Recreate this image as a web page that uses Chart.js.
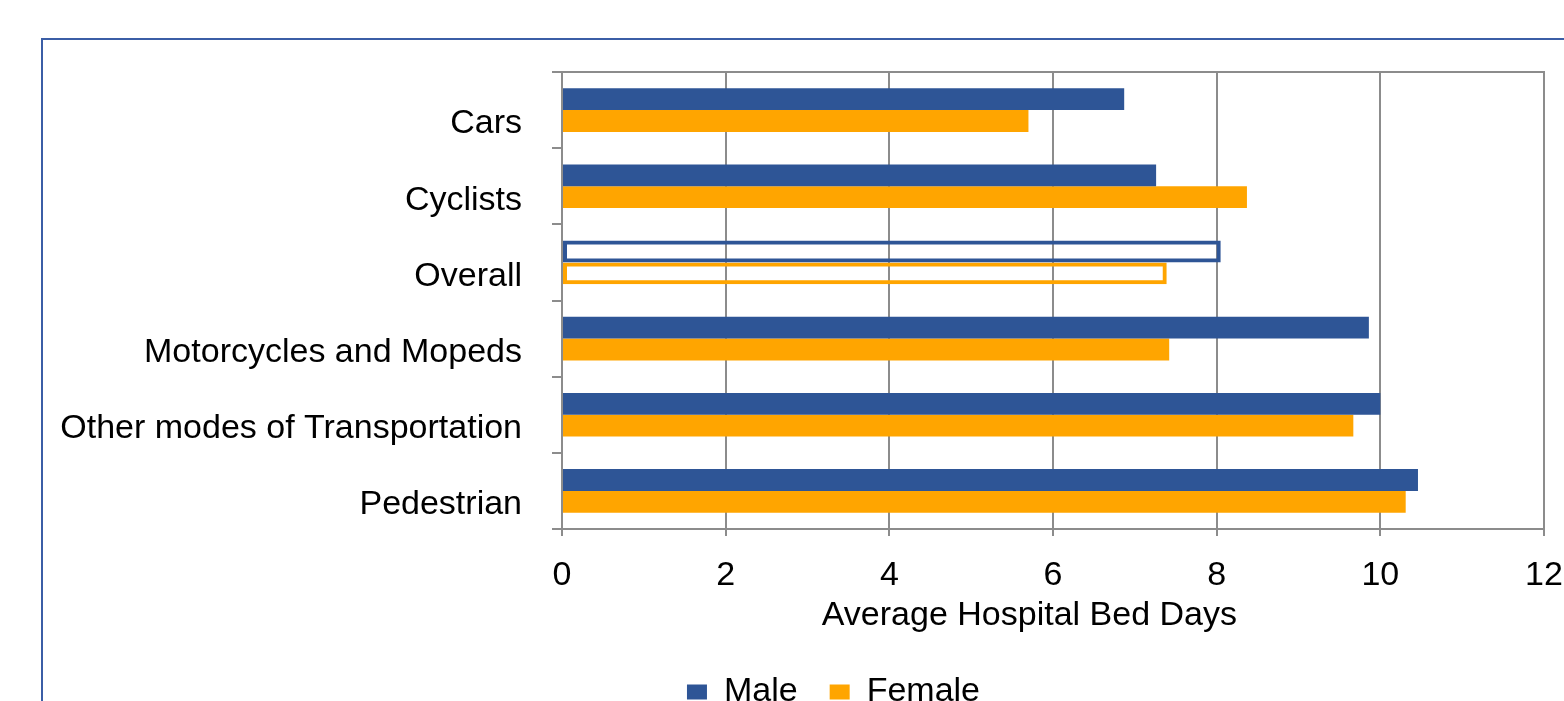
<!DOCTYPE html>
<html>
<head>
<meta charset="utf-8">
<script src="https://cdn.jsdelivr.net/npm/chart.js@4"></script>
<style>
  html, body { margin: 0; padding: 0; background: #fff; overflow: hidden; }
  #frame {
    position: absolute; left: 41px; top: 38px; width: 1600px; height: 800px;
    border-top: 2px solid #3B5EA6; border-left: 2px solid #3B5EA6;
  }
  #wrap { position: absolute; left: 0; top: 0; width: 1564px; height: 723px; }
</style>
</head>
<body>
<div id="frame"></div>
<div id="wrap"><canvas id="bedDays"></canvas></div>
<script>
// chart data
var categories = ['Cars', 'Cyclists', 'Overall', 'Motorcycles and Mopeds', 'Other modes of Transportation', 'Pedestrian'];
var maleDays = [6.87, 7.26, 8.05, 9.86, 10.0, 10.46];
var femaleDays = [5.70, 8.37, 7.39, 7.42, 9.67, 10.31];
var xTicks = [0, 2, 4, 6, 8, 10, 12];
var outlinedCategory = 'Overall';

var BLUE = '#2E5596';
var ORANGE = '#FFA500';
var GRID = '#8C8C8C';
var FONT = '"Liberation Sans", Arial, sans-serif';

function fillFor(color) {
    return function(ctx) {
        return categories[ctx.dataIndex] === outlinedCategory ? 'rgba(0,0,0,0)' : color;
    };
}
function borderFor(ctx) {
    return categories[ctx.dataIndex] === outlinedCategory ? 4 : 0;
}

// top and right edges of the plot area
var plotFrame = {
    id: 'plotFrame',
    beforeDatasetsDraw: function(chart) {
        var a = chart.chartArea, c = chart.ctx;
        c.save();
        c.strokeStyle = GRID;
        c.lineWidth = 2;
        c.beginPath();
        c.moveTo(a.left, a.top);
        c.lineTo(a.right, a.top);
        c.lineTo(a.right, a.bottom);
        c.stroke();
        c.restore();
    }
};

// legend sits a bit right of the page centre in the original
var legendShift = {
    id: 'legendShift',
    afterLayout: function(chart) {
        chart.legend.left += 105;
    }
};

var ctx = document.getElementById('bedDays').getContext('2d');
var bedDays = new Chart(ctx, {
    type: 'bar',
    data: {
        labels: categories,
        datasets: [{
            label: 'Male',
            data: maleDays,
            backgroundColor: fillFor(BLUE),
            borderColor: BLUE,
            borderWidth: borderFor,
            borderSkipped: false
        }, {
            label: 'Female',
            data: femaleDays,
            backgroundColor: fillFor(ORANGE),
            borderColor: ORANGE,
            borderWidth: borderFor,
            borderSkipped: false
        }]
    },
    options: {
        indexAxis: 'y',
        responsive: true,
        maintainAspectRatio: false,
        animation: false,
        categoryPercentage: 0.573,
        barPercentage: 1.0,
        layout: {
            padding: { top: 72, right: 2, bottom: 4, left: 0 }
        },
        plugins: {
            legend: {
                position: 'bottom',
                labels: {
                    color: '#000',
                    font: { family: FONT, size: 34 },
                    boxWidth: 20,
                    boxHeight: 15,
                    padding: 32
                }
            },
            tooltip: { enabled: false }
        },
        scales: {
            x: {
                min: 0,
                max: 12,
                afterBuildTicks: function(scale) {
                    scale.ticks = xTicks.map(function(v) { return { value: v }; });
                },
                afterFit: function(scale) {
                    scale.height = 114;
                    scale.paddingRight = 20;
                },
                grid: { color: GRID, lineWidth: 2, tickLength: 7 },
                border: { display: true, color: GRID, width: 2 },
                ticks: {
                    color: '#000',
                    font: { family: FONT, size: 34 },
                    padding: 19
                },
                title: {
                    display: true,
                    text: 'Average Hospital Bed Days     ',
                    color: '#000',
                    font: { family: FONT, size: 34 },
                    padding: { top: 0, bottom: 7 }
                }
            },
            y: {
                afterFit: function(scale) { scale.width = 562; },
                grid: { drawOnChartArea: false, color: GRID, lineWidth: 2, tickLength: 10 },
                border: { display: true, color: GRID, width: 2 },
                ticks: {
                    color: '#000',
                    font: { family: FONT, size: 34 },
                    padding: 30,
                    labelOffset: 14
                }
            }
        }
    },
    plugins: [plotFrame, legendShift]
});
</script>
</body>
</html>
